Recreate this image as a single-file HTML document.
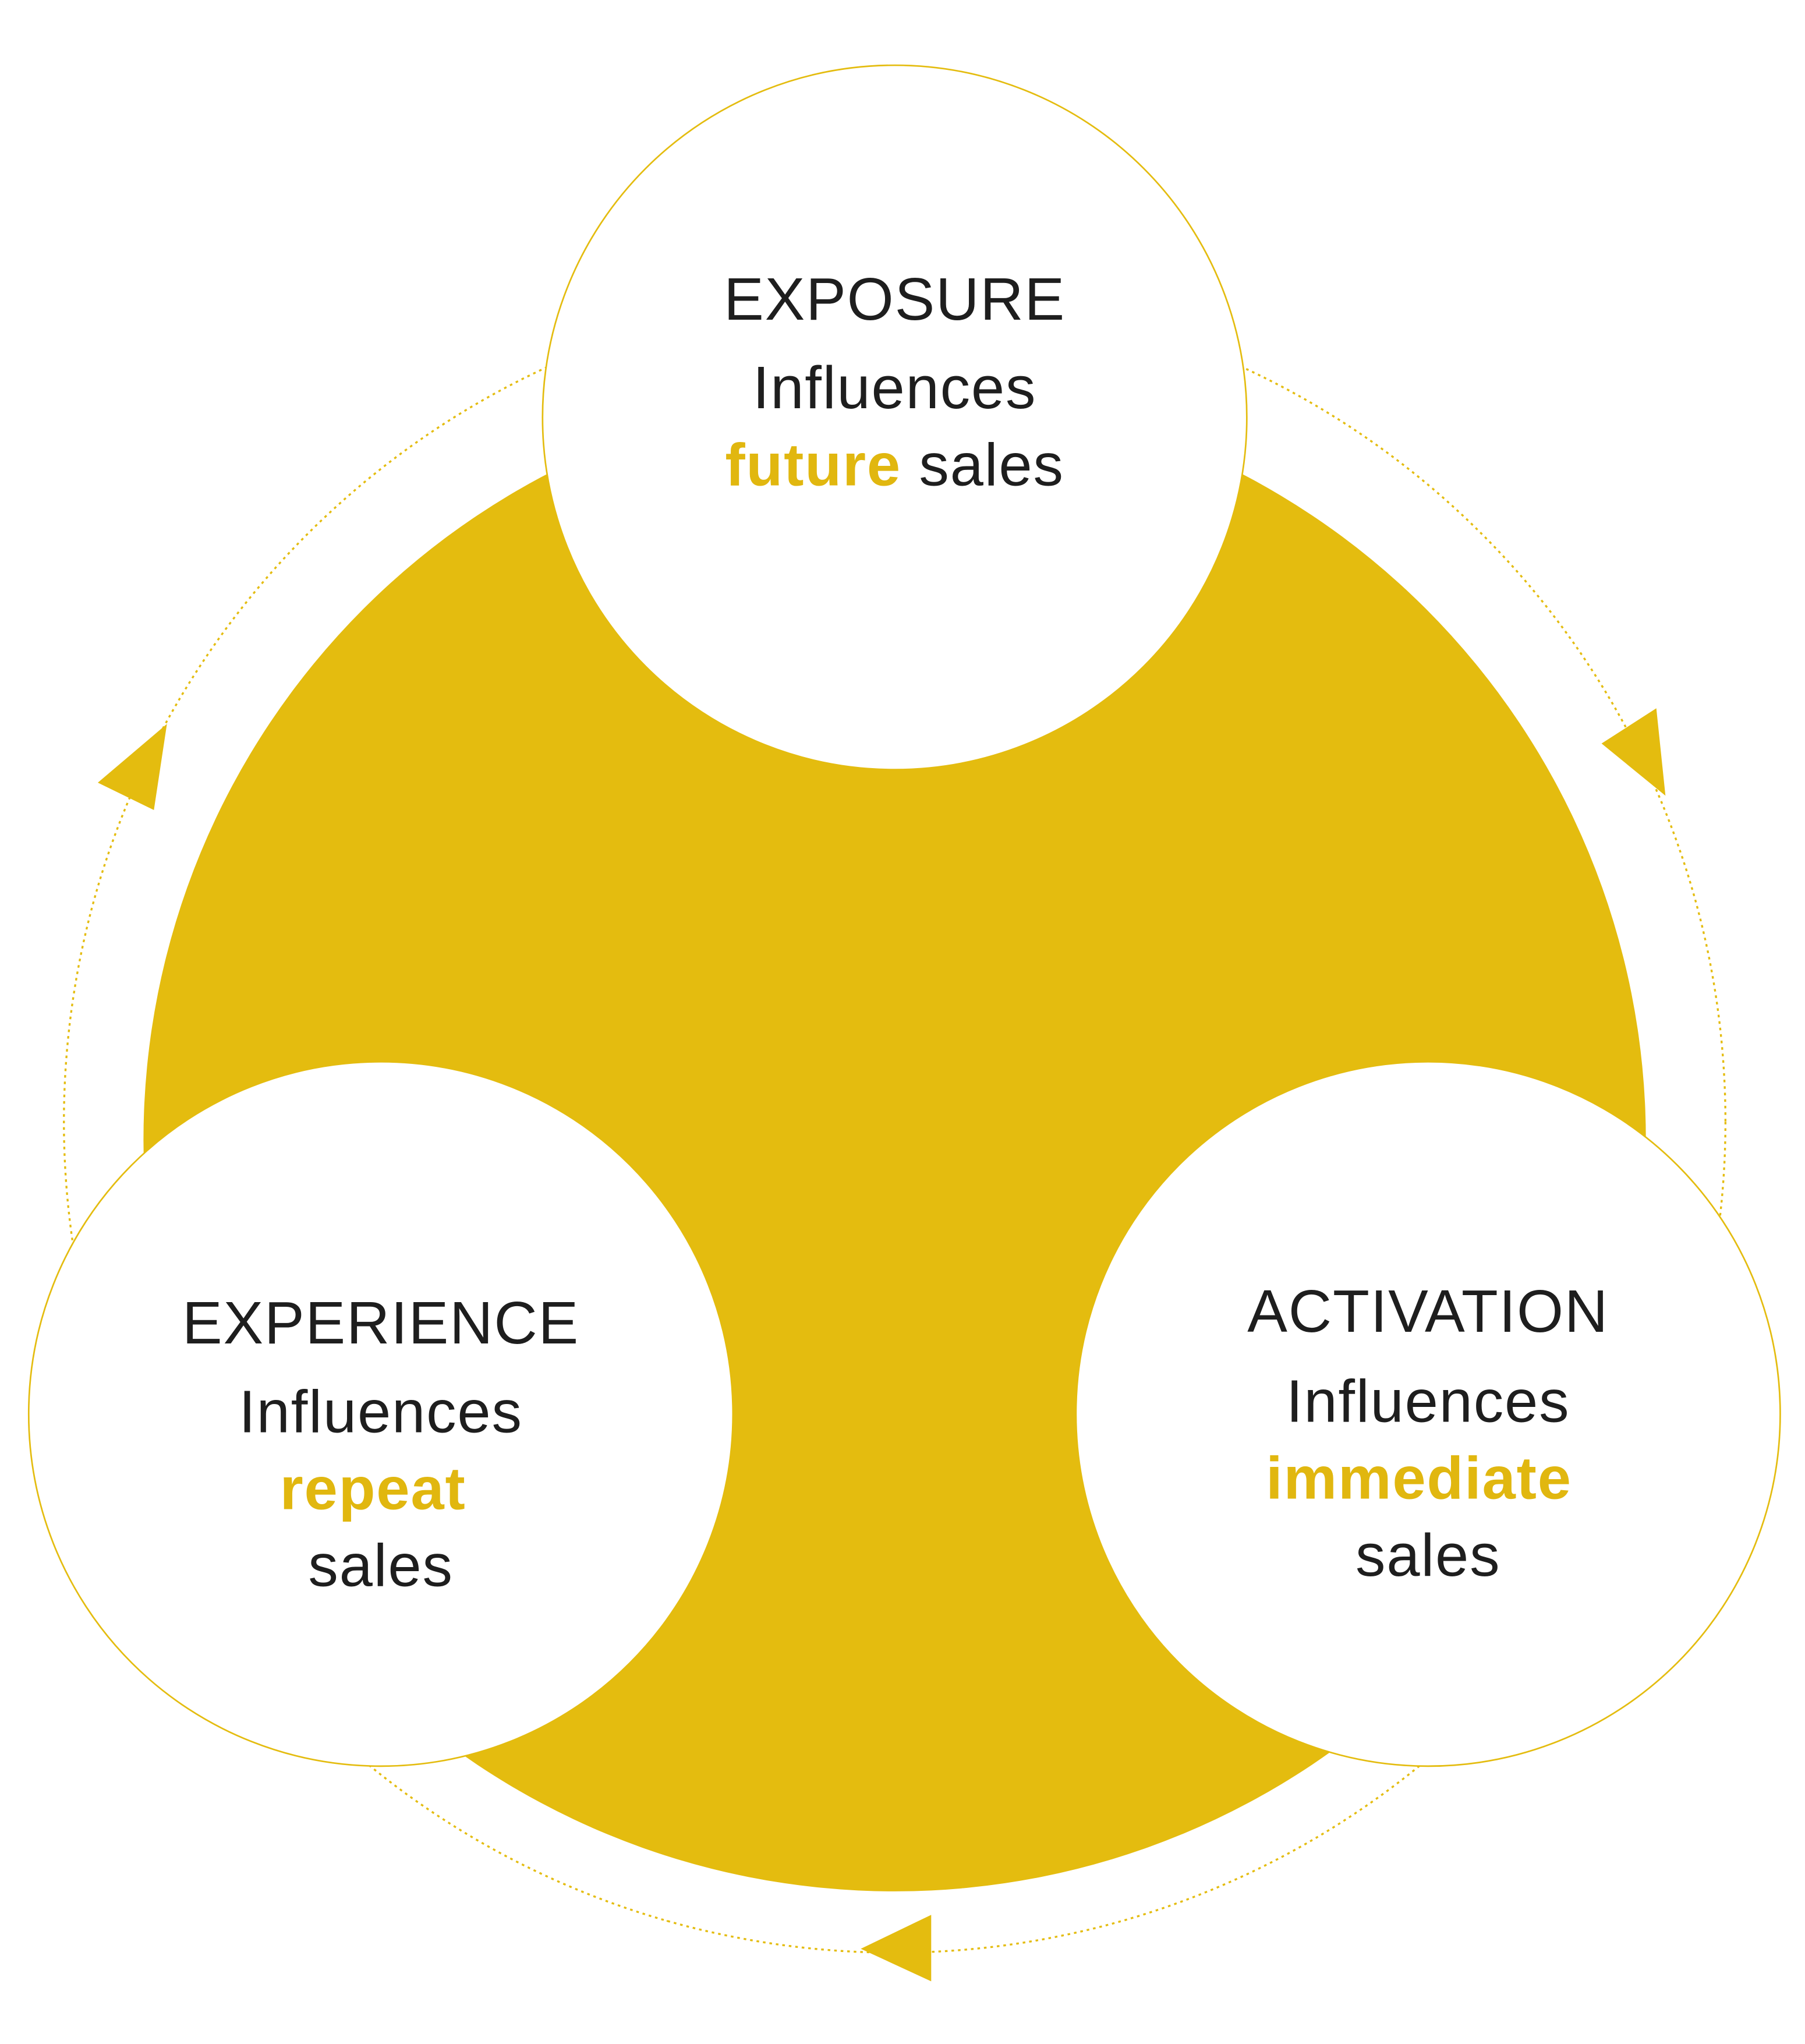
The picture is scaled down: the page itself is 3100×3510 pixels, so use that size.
<!DOCTYPE html>
<html><head><meta charset="utf-8"><style>
html,body{margin:0;padding:0;background:#fff;}
svg{display:block}
text{font-family:"Liberation Sans",sans-serif;font-size:46px;fill:#1e1e1e;text-anchor:middle;letter-spacing:0.8px}
.y{fill:#E1B70F;font-weight:600}
</style></head><body>
<svg width="3100" height="3510" viewBox="0 0 1384 1567" xmlns="http://www.w3.org/2000/svg">
<rect width="1384" height="1567" fill="#fff"/>
<circle cx="686" cy="860" r="637" fill="none" stroke="#E4BC0F" stroke-width="1.5" stroke-dasharray="2 3"/>
<circle cx="686" cy="874" r="576" fill="#E4BC0F"/>
<circle cx="686" cy="320" r="270" fill="#fff" stroke="#E4BC0F" stroke-width="1.2"/>
<circle cx="292" cy="1084" r="270" fill="#fff" stroke="#E4BC0F" stroke-width="1.2"/>
<circle cx="1095" cy="1084" r="270" fill="#fff" stroke="#E4BC0F" stroke-width="1.2"/>
<polygon points="75,600 128,555 118,621" fill="#E4BC0F"/>
<polygon points="1228,570 1270,543 1277,610" fill="#E4BC0F"/>
<polygon points="660,1494 714,1468 714,1519" fill="#E4BC0F"/>
<text x="686" y="245">EXPOSURE</text>
<text x="686" y="313">Influences</text>
<text x="686" y="372"><tspan class="y">future</tspan> sales</text>
<text x="292" y="1030">EXPERIENCE</text>
<text x="292" y="1098">Influences</text>
<text x="286" y="1157" class="y">repeat</text>
<text x="292" y="1216">sales</text>
<text x="1095" y="1021">ACTIVATION</text>
<text x="1095" y="1090">Influences</text>
<text x="1088" y="1149" class="y">immediate</text>
<text x="1095" y="1208">sales</text>
</svg>
</body></html>
